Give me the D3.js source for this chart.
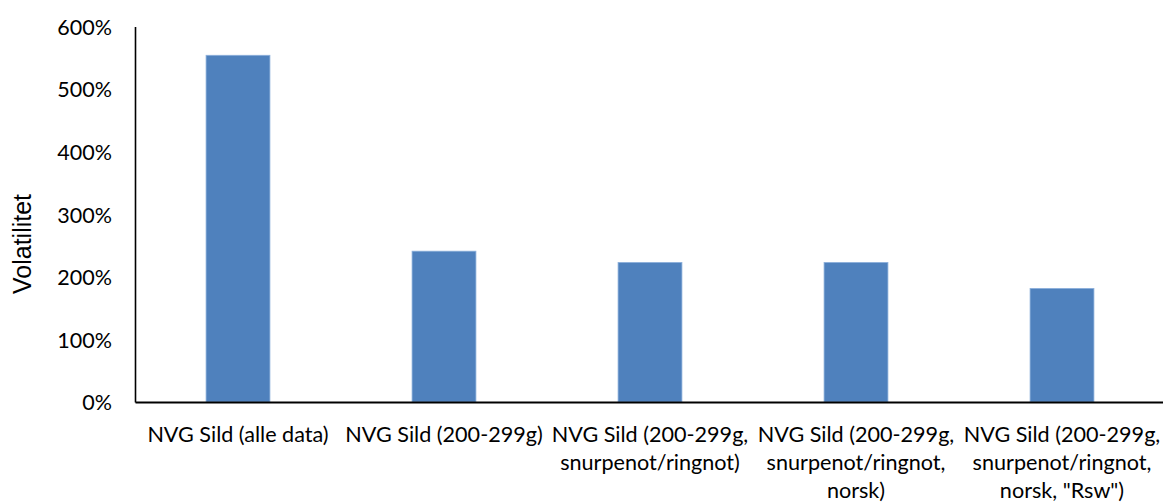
<!DOCTYPE html>
<html><head><meta charset="utf-8">
<script src="https://cdn.jsdelivr.net/npm/d3@7"></script>
<style>html,body{margin:0;padding:0;background:#fff;}svg{display:block;}</style>
</head><body>
<svg id="c" width="1163" height="502"></svg>
<script>
const categories = [
  ["NVG Sild (alle data)"],
  ["NVG Sild (200-299g)"],
  ["NVG Sild (200-299g,", "snurpenot/ringnot)"],
  ["NVG Sild (200-299g,", "snurpenot/ringnot,", "norsk)"],
  ["NVG Sild (200-299g,", "snurpenot/ringnot,", "norsk, \"Rsw\")"]
];
const values = [5.54, 2.41, 2.23, 2.23, 1.815];
const yTicks = [0, 1, 2, 3, 4, 5, 6];
const yTitle = "Volatilitet";

const svg = d3.select("#c");
const mLeft = 135, mRight = 1165, mTop = 26.5, mBottom = 402;
const font = "Lato, 'Open Sans', sans-serif";

const x = d3.scaleBand().domain(d3.range(categories.length)).range([mLeft, mRight]).paddingInner(0.69).paddingOuter(0.345);
const y = d3.scaleLinear().domain([0, 6]).range([mBottom, mTop]);

svg.append("g").selectAll("rect").data(values).join("rect")
  .attr("x", (d, i) => x(i)).attr("width", x.bandwidth())
  .attr("y", d => y(d)).attr("height", d => y(0) - y(d))
  .attr("fill", "#4F81BD").attr("stroke", "#8DB0DB").attr("stroke-width", 0.8);

const yAxis = svg.append("g").attr("transform", `translate(${mLeft},0)`)
  .call(d3.axisLeft(y).tickValues(yTicks).tickSize(0).tickPadding(23).tickFormat(d => d3.format(".0%")(d)));
yAxis.select(".domain").attr("stroke", "#000").attr("stroke-width", 1.6);
yAxis.selectAll("text").attr("font-family", font).attr("font-size", 21.5).attr("fill", "#000").attr("dy", "0.36em");

const xAxis = svg.append("g").attr("transform", `translate(0,${mBottom})`)
  .call(d3.axisBottom(x).tickSize(0).tickFormat(""));
xAxis.select(".domain").attr("stroke", "#000").attr("stroke-width", 2.2);
xAxis.selectAll(".tick").each(function(d) {
  const t = d3.select(this).append("text")
    .attr("text-anchor", "middle").attr("font-family", font).attr("font-size", 21.6).attr("fill", "#000");
  categories[d].forEach((line, j) => {
    t.append("tspan").attr("x", 0).attr("y", 39.5 + j * 28).text(line);
  });
});

svg.append("text")
  .attr("transform", `translate(31,244) rotate(-90)`)
  .attr("text-anchor", "middle")
  .attr("font-family", "'Liberation Sans', Arial, sans-serif").attr("font-size", 25).attr("fill", "#000")
  .text(yTitle);
</script>
</body></html>
